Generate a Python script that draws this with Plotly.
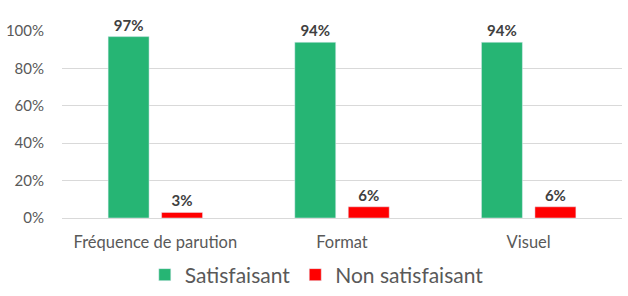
import plotly.graph_objects as go

categories = ["Fréquence de parution", "Format", "Visuel"]
satisfaisant = [0.97, 0.94, 0.94]
non_satisfaisant = [0.03, 0.06, 0.06]
y_ticks = [0, 0.2, 0.4, 0.6, 0.8, 1.0]
y_tick_labels = ["0%", "20%", "40%", "60%", "80%", "100%"]

FONT = "Lato, Calibri, sans-serif"

fig = go.Figure()
fig.add_trace(go.Bar(
    name="Satisfaisant", x=categories, y=satisfaisant,
    marker_color="#26B574",
    text=[f"{round(v*100)}%" for v in satisfaisant],
    textposition="outside", cliponaxis=False,
    textfont=dict(family=FONT, size=15, color="#404040", weight="bold"),
))
fig.add_trace(go.Bar(
    name="Non satisfaisant", x=categories, y=non_satisfaisant,
    marker_color="#FF0000",
    text=[f"{round(v*100)}%" for v in non_satisfaisant],
    textposition="outside", cliponaxis=False,
    textfont=dict(family=FONT, size=15, color="#404040", weight="bold"),
))

fig.update_layout(
    width=628, height=296,
    margin=dict(l=62, r=6, t=31, b=78, autoexpand=False),
    paper_bgcolor="white", plot_bgcolor="white",
    barmode="group", bargap=0.427, bargroupgap=0.234,
    font=dict(family=FONT, color="#595959"),
    showlegend=True,
    legend=dict(orientation="h", x=0.455, xanchor="center",
                yref="container", y=0.071, yanchor="middle",
                font=dict(family=FONT, size=21, color="#595959"),
                itemwidth=30, traceorder="normal"),
)
fig.update_yaxes(
    range=[0, 1.0], tickvals=y_ticks, ticktext=y_tick_labels,
    showgrid=True, gridcolor="#D9D9D9", gridwidth=1,
    zeroline=True, zerolinecolor="#D9D9D9", zerolinewidth=1,
    showline=False, ticks="", ticklabelstandoff=17,
    tickfont=dict(family=FONT, size=15, color="#595959"),
)
fig.update_xaxes(
    showgrid=False, showline=False, ticks="", ticklabelstandoff=12,
    tickfont=dict(family=FONT, size=16.5, color="#595959"),
)

fig.write_html("out.html")
